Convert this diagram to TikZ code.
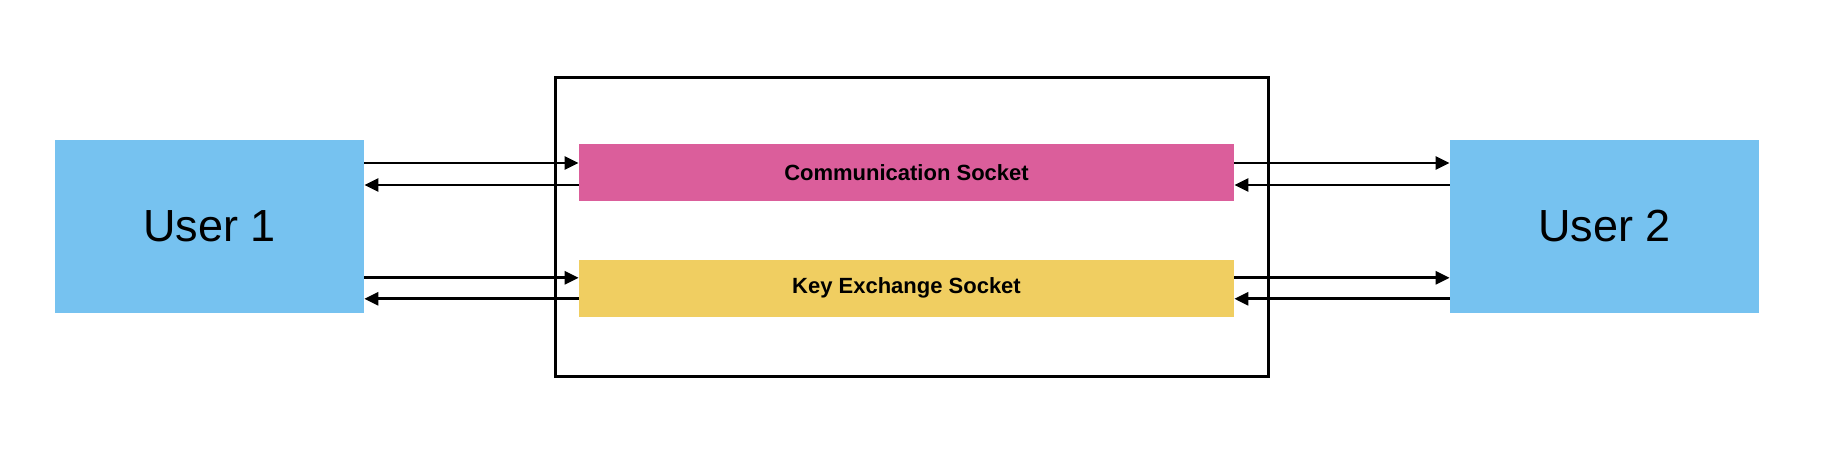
\documentclass[tikz,border=0pt]{standalone}
\usepackage{fontspec}
\setmainfont{Liberation Sans}
\usetikzlibrary{positioning,arrows.meta,calc}
\definecolor{userc}{RGB}{118,194,240}
\definecolor{commc}{RGB}{219,94,155}
\definecolor{keyc}{RGB}{240,206,97}
\tikzset{
  user/.style={fill=userc,minimum width=154.5pt,minimum height=86.5pt,inner sep=0pt,font=\fontsize{22.5}{26}\selectfont},
  sock/.style={minimum width=327.5pt,minimum height=28.5pt,inner sep=0pt,font=\fontsize{11}{13}\selectfont\bfseries},
  ar/.style={-{Triangle[length=7pt,width=6.5pt]},line width=1.4pt},
}

\begin{document}
\begin{tikzpicture}[x=0.5pt,y=-0.5pt]
  \useasboundingbox (0,0) rectangle (1832,466);
  \node[draw,line width=1.7pt,minimum width=356.5pt,minimum height=149.5pt,inner sep=0pt] (srv) at (912,227) {};
  \node[sock,fill=commc] (cs) at (906.5,172.5) {Communication Socket};
  \node[sock,fill=keyc,below=29pt of cs] (ks) {Key Exchange Socket};
  \node[user] (u1) at (209.5,226.5) {User 1};
  \node[user] (u2) at (1604.5,226.5) {User 2};
  % arrow rows
  \coordinate (c1) at ($(cs.west)+(0,-9.5)$);
  \coordinate (c2) at ($(cs.west)+(0,12.5)$);
  \coordinate (k1) at ($(ks.west)+(0,-10.5)$);
  \coordinate (k2) at ($(ks.west)+(0,10.5)$);
  \draw[ar] (u1.east |- c1) -- (c1);
  \draw[ar] (c2) -- (u1.east |- c2);
  \draw[ar] (u1.east |- k1) -- (k1);
  \draw[ar] (k2) -- (u1.east |- k2);
  \draw[ar] (cs.east |- c1) -- (u2.west |- c1);
  \draw[ar] (u2.west |- c2) -- (cs.east |- c2);
  \draw[ar] (ks.east |- k1) -- (u2.west |- k1);
  \draw[ar] (u2.west |- k2) -- (ks.east |- k2);
\end{tikzpicture}
\end{document}
